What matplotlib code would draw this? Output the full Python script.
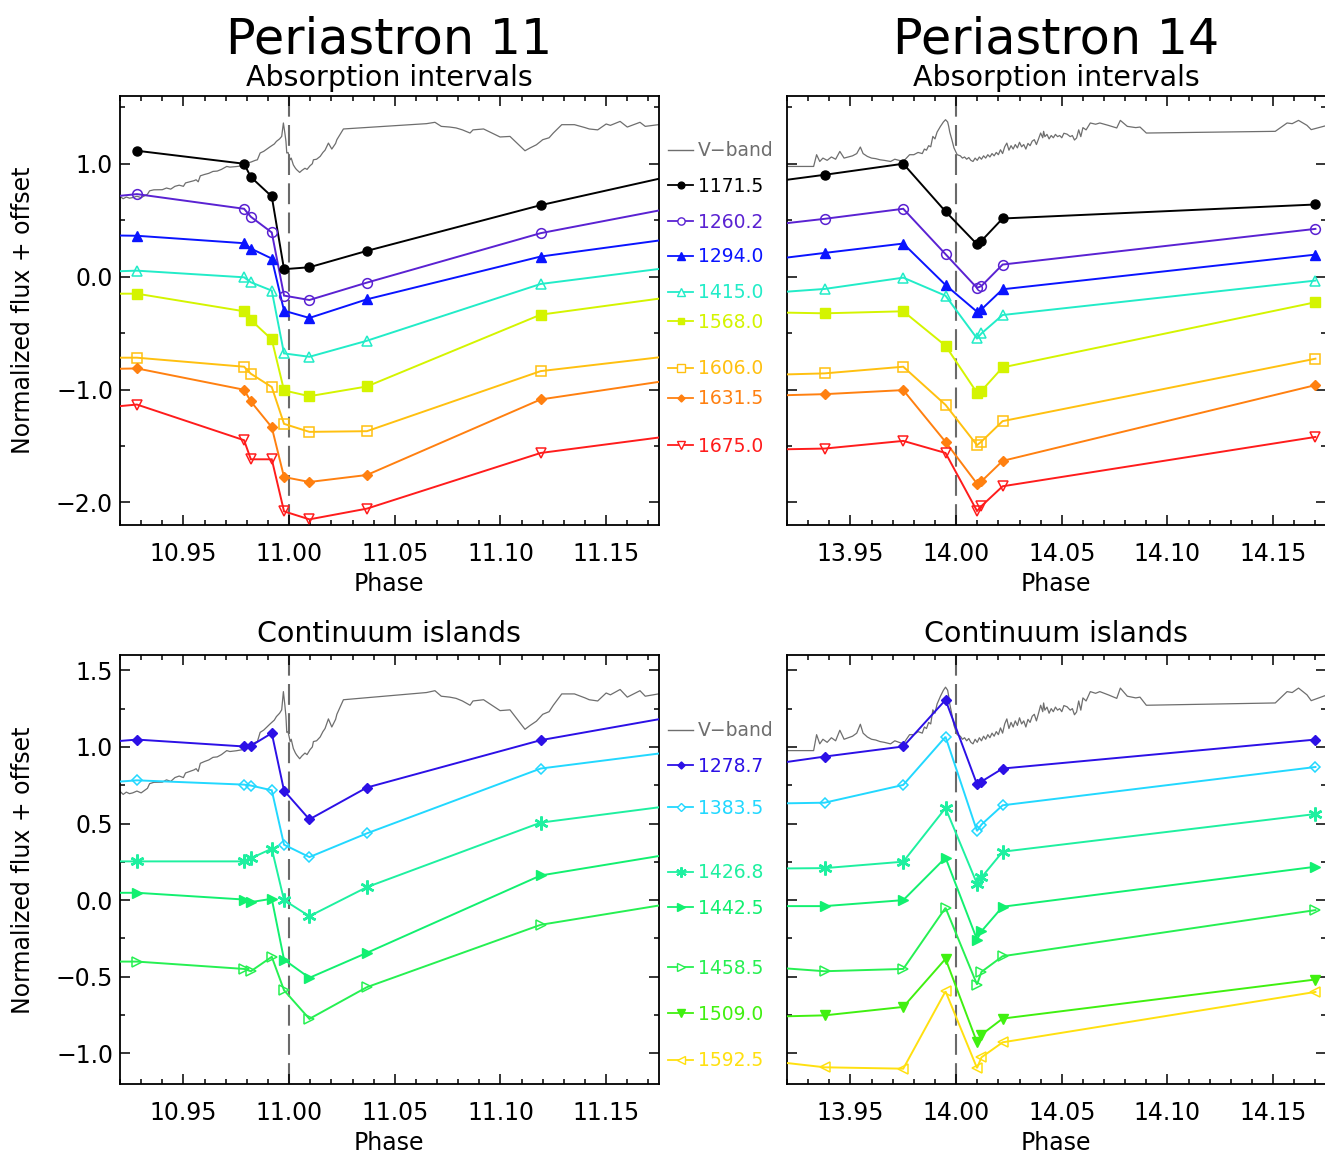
import matplotlib
matplotlib.use('Agg')
import matplotlib.pyplot as plt
from matplotlib.lines import Line2D
from matplotlib.ticker import MultipleLocator, FuncFormatter

# ---------------- data ----------------
# observation phases
phase_p11 = [10.928, 10.9787, 10.9819, 10.9918, 10.9976, 11.0096, 11.0368, 11.119]
phase_p14 = [13.9378, 13.975, 13.995, 14.0099, 14.012, 14.022, 14.170]
xlim_p11 = (10.92, 11.175)
xlim_p14 = (13.92, 14.175)

# V-band light curve (normalized)
vband_p11_x = [10.920, 10.9215, 10.923, 10.9245, 10.926, 10.928, 10.930, 10.931, 10.933, 10.934,
               10.936, 10.940, 10.942, 10.944, 10.946, 10.948, 10.950, 10.951, 10.953, 10.955,
               10.956, 10.957, 10.958, 10.960, 10.962, 10.964, 10.966, 10.968, 10.9705, 10.972,
               10.975, 10.978, 10.980, 10.982, 10.984, 10.985, 10.9863, 10.988, 10.9895, 10.991,
               10.993, 10.994, 10.9955, 10.9965, 10.9973, 10.998, 10.9985, 10.9989, 10.9995, 11.0005,
               11.001, 11.002, 11.003, 11.0036, 11.005, 11.006, 11.0075, 11.0085, 11.0099, 11.011,
               11.0115, 11.013, 11.0147, 11.016, 11.017, 11.0186, 11.0202, 11.022, 11.0226, 11.0257,
               11.065, 11.069, 11.072, 11.076, 11.079, 11.082, 11.0856, 11.087, 11.092, 11.0998,
               11.1045, 11.1116, 11.114, 11.117, 11.120, 11.123, 11.125, 11.129, 11.135, 11.140,
               11.142, 11.146, 11.150, 11.152, 11.1566, 11.160, 11.166, 11.1685, 11.1747]
vband_p11_y = [0.710, 0.690, 0.705, 0.695, 0.700, 0.712, 0.700, 0.710, 0.730, 0.760,
               0.769, 0.770, 0.785, 0.775, 0.800, 0.810, 0.800, 0.830, 0.840, 0.850,
               0.858, 0.840, 0.893, 0.905, 0.915, 0.932, 0.935, 0.950, 0.976, 0.970,
               0.975, 0.982, 1.006, 1.015, 1.030, 1.035, 1.095, 1.110, 1.130, 1.150,
               1.175, 1.198, 1.220, 1.242, 1.361, 1.272, 1.200, 1.095, 1.100, 1.035,
               1.050, 0.990, 0.960, 0.947, 0.923, 0.940, 0.960, 0.950, 0.982, 1.000,
               1.035, 1.040, 1.065, 1.100, 1.120, 1.183, 1.130, 1.180, 1.213, 1.308,
               1.355, 1.367, 1.331, 1.325, 1.317, 1.300, 1.272, 1.300, 1.308, 1.237,
               1.242, 1.115, 1.140, 1.168, 1.213, 1.230, 1.272, 1.346, 1.346, 1.320,
               1.308, 1.300, 1.352, 1.340, 1.375, 1.325, 1.367, 1.331, 1.346]

vband_p14_x = [13.920, 13.9326, 13.934, 13.9355, 13.937, 13.939, 13.941, 13.943, 13.945, 13.947,
               13.949, 13.951, 13.953, 13.9547, 13.956, 13.958, 13.960, 13.962, 13.964, 13.966,
               13.969, 13.971, 13.973, 13.975, 13.978, 13.980, 13.982, 13.984, 13.985, 13.986,
               13.987, 13.988, 13.989, 13.990, 13.991, 13.9926, 13.994, 13.995, 13.996, 13.9965,
               13.997, 13.998, 13.999, 14.0005, 14.002, 14.003, 14.004, 14.005, 14.006, 14.007,
               14.008, 14.009, 14.010, 14.011, 14.012, 14.013, 14.014, 14.015, 14.016, 14.017,
               14.018, 14.019, 14.020, 14.021, 14.022, 14.023, 14.024, 14.025, 14.026, 14.027,
               14.028, 14.029, 14.030, 14.031, 14.032, 14.033, 14.034, 14.035, 14.036, 14.037,
               14.038, 14.039, 14.040, 14.041, 14.0414, 14.042, 14.043, 14.044, 14.045, 14.046,
               14.047, 14.048, 14.049, 14.050, 14.051, 14.0525, 14.054, 14.055, 14.056, 14.057,
               14.058, 14.059, 14.060, 14.0615, 14.0635, 14.066, 14.068, 14.072, 14.076, 14.0777,
               14.081, 14.085, 14.087, 14.090, 14.151, 14.1566, 14.159, 14.162, 14.166, 14.168,
               14.175]
vband_p14_y = [0.976, 0.976, 1.080, 1.020, 1.050, 1.030, 1.060, 1.040, 1.109, 1.050,
               1.060, 1.070, 1.090, 1.148, 1.090, 1.065, 1.050, 1.045, 1.035, 1.030,
               1.020, 1.040, 1.030, 1.020, 1.080, 1.080, 1.100, 1.090, 1.130, 1.120,
               1.160, 1.150, 1.242, 1.220, 1.280, 1.331, 1.370, 1.390, 1.370, 1.331,
               1.280, 1.213, 1.140, 1.080, 1.070, 1.050, 1.060, 1.040, 1.055, 1.030,
               1.020, 1.050, 1.030, 1.060, 1.040, 1.070, 1.050, 1.080, 1.060, 1.090,
               1.070, 1.100, 1.080, 1.124, 1.090, 1.150, 1.183, 1.120, 1.160, 1.130,
               1.170, 1.140, 1.190, 1.150, 1.170, 1.130, 1.180, 1.160, 1.200, 1.213,
               1.170, 1.220, 1.272, 1.230, 1.287, 1.240, 1.260, 1.220, 1.250, 1.230,
               1.260, 1.240, 1.250, 1.230, 1.270, 1.262, 1.240, 1.250, 1.210, 1.228,
               1.300, 1.240, 1.320, 1.300, 1.361, 1.350, 1.361, 1.340, 1.317, 1.384,
               1.331, 1.320, 1.325, 1.272, 1.287, 1.361, 1.355, 1.384, 1.340, 1.302,
               1.337]

# Absorption intervals, periastron 11  (values at phase_p11; left/right = value at axis edges)
abs_labels = ['1171.5', '1260.2', '1294.0', '1415.0', '1568.0', '1606.0', '1631.5', '1675.0']
abs11 = {
    '1171.5': [1.115, 1.000, 0.882, 0.710, 0.066, 0.083, 0.228, 0.633],
    '1260.2': [0.731, 0.601, 0.530, 0.391, -0.168, -0.207, -0.053, 0.385],
    '1294.0': [0.362, 0.296, 0.249, 0.160, -0.302, -0.366, -0.201, 0.178],
    '1415.0': [0.053, -0.006, -0.050, -0.124, -0.680, -0.710, -0.568, -0.065],
    '1568.0': [-0.151, -0.307, -0.384, -0.556, -1.008, -1.059, -0.973, -0.337],
    '1606.0': [-0.718, -0.798, -0.860, -0.978, -1.304, -1.375, -1.369, -0.837],
    '1631.5': [-0.813, -1.002, -1.106, -1.334, -1.775, -1.819, -1.757, -1.088],
    '1675.0': [-1.133, -1.449, -1.618, -1.618, -2.079, -2.150, -2.055, -1.562],
}
abs11_left = {'1171.5': None, '1260.2': 0.716, '1294.0': 0.364, '1415.0': 0.048,
              '1568.0': -0.151, '1606.0': -0.718, '1631.5': -0.816, '1675.0': -1.147}
abs11_right = {'1171.5': 0.867, '1260.2': 0.586, '1294.0': 0.320, '1415.0': 0.068,
               '1568.0': -0.195, '1606.0': -0.715, '1631.5': -0.932, '1675.0': -1.425}

# Absorption intervals, periastron 14 (values at phase_p14)
abs14 = {
    '1171.5': [0.902, 1.000, 0.577, 0.287, 0.317, 0.515, 0.639],
    '1260.2': [0.512, 0.601, 0.199, -0.100, -0.083, 0.107, 0.423],
    '1294.0': [0.210, 0.293, -0.074, -0.311, -0.290, -0.112, 0.195],
    '1415.0': [-0.109, -0.009, -0.169, -0.547, -0.503, -0.340, -0.035],
    '1568.0': [-0.325, -0.307, -0.612, -1.029, -1.012, -0.804, -0.227],
    '1606.0': [-0.857, -0.798, -1.136, -1.493, -1.461, -1.280, -0.727],
    '1631.5': [-1.041, -1.005, -1.464, -1.834, -1.813, -1.632, -0.961],
    '1675.0': [-1.523, -1.455, -1.562, -2.076, -2.032, -1.857, -1.420],
}
abs14_left = {'1171.5': 0.858, '1260.2': 0.474, '1294.0': 0.169, '1415.0': -0.133,
              '1568.0': -0.319, '1606.0': -0.866, '1631.5': -1.050, '1675.0': -1.529}

# Continuum islands, periastron 11
cont_labels = ['1278.7', '1383.5', '1426.8', '1442.5', '1458.5', '1509.0', '1592.5']
cont11 = {
    '1278.7': [1.048, 1.003, 1.007, 1.090, 0.715, 0.527, 0.735, 1.044],
    '1383.5': [0.782, 0.754, 0.748, 0.717, 0.362, 0.281, 0.436, 0.859],
    '1426.8': [0.253, 0.253, 0.273, 0.336, 0.000, -0.105, 0.085, 0.506],
    '1442.5': [0.048, 0.004, -0.013, 0.009, -0.388, -0.507, -0.344, 0.161],
    '1458.5': [-0.401, -0.449, -0.464, -0.370, -0.588, -0.775, -0.568, -0.161],
}
cont11_left = {'1278.7': 1.039, '1383.5': 0.774, '1426.8': 0.253, '1442.5': 0.048, '1458.5': -0.401}
cont11_right = {'1278.7': 1.181, '1383.5': 0.957, '1426.8': 0.606, '1442.5': 0.288, '1458.5': -0.035}

# Continuum islands, periastron 14
cont14 = {
    '1278.7': [0.937, 1.003, 1.307, 0.756, 0.774, 0.859, 1.048],
    '1383.5': [0.636, 0.752, 1.066, 0.451, 0.493, 0.619, 0.869],
    '1426.8': [0.209, 0.251, 0.601, 0.107, 0.148, 0.316, 0.562],
    '1442.5': [-0.039, 0.000, 0.277, -0.257, -0.203, -0.043, 0.218],
    '1458.5': [-0.464, -0.449, -0.050, -0.551, -0.468, -0.366, -0.065],
    '1509.0': [-0.752, -0.697, -0.383, -0.928, -0.878, -0.773, -0.518],
    '1592.5': [-1.091, -1.100, -0.595, -1.096, -1.026, -0.928, -0.599],
}
cont14_left = {'1278.7': 0.902, '1383.5': 0.632, '1426.8': 0.207, '1442.5': -0.039,
               '1458.5': -0.446, '1509.0': -0.758, '1592.5': -1.063}

# legend label positions (pixel rows)
abs_legend_rows = [185, 221, 256, 292, 321, 368, 398, 445]
cont_legend_rows = [765, 807, 872, 907, 967, 1013, 1060]

# ---------------- styles ----------------
ASTER = (6, 2, 0)
style = {
    '1171.5': dict(color='#000000', marker='o', fill=True, ms=6.5),
    '1260.2': dict(color='#5a22d2', marker='o', fill=False, ms=7),
    '1294.0': dict(color='#0a14ff', marker='^', fill=True, ms=7),
    '1415.0': dict(color='#22ecc8', marker='^', fill=False, ms=7.5),
    '1568.0': dict(color='#d4f400', marker='s', fill=True, ms=6.5),
    '1606.0': dict(color='#ffc010', marker='s', fill=False, ms=7),
    '1631.5': dict(color='#ff8010', marker='D', fill=True, ms=4.8),
    '1675.0': dict(color='#ff1c1c', marker='v', fill=False, ms=7.5),
    '1278.7': dict(color='#2c10e6', marker='D', fill=True, ms=4.8),
    '1383.5': dict(color='#22d8ff', marker='D', fill=False, ms=5.5),
    '1426.8': dict(color='#1ef0a0', marker=ASTER, fill=True, ms=10),
    '1442.5': dict(color='#12f070', marker='>', fill=True, ms=7),
    '1458.5': dict(color='#26f052', marker='>', fill=False, ms=7.5),
    '1509.0': dict(color='#40f010', marker='v', fill=True, ms=7),
    '1592.5': dict(color='#ffe010', marker='<', fill=False, ms=7.5),
}
VCOL = '#6e6e6e'

W, H = 1325, 1153
fig = plt.figure(figsize=(W / 100, H / 100), dpi=100)
plt.rcParams['font.family'] = 'DejaVu Sans'


def rect(l, t, r, b):
    return [l / W, 1 - b / H, (r - l) / W, (b - t) / H]


def px(x, y):
    return x / W, 1 - y / H


ax_tl = fig.add_axes(rect(120, 96, 659, 525))
ax_tr = fig.add_axes(rect(787, 96, 1326, 525))
ax_bl = fig.add_axes(rect(120, 655, 659, 1084))
ax_br = fig.add_axes(rect(787, 655, 1326, 1084))


def fmt(decimals):
    return FuncFormatter(lambda v, p: ('%.*f' % (decimals, v)).replace('-', '\u2212'))


def setup(ax, xlim, ylim, ymaj, ymin, ylabels):
    ax.set_xlim(*xlim)
    ax.set_ylim(*ylim)
    ax.xaxis.set_major_locator(MultipleLocator(0.05))
    ax.xaxis.set_minor_locator(MultipleLocator(0.01))
    ax.yaxis.set_major_locator(MultipleLocator(ymaj))
    ax.yaxis.set_minor_locator(MultipleLocator(ymin))
    ax.xaxis.set_major_formatter(fmt(2))
    ax.yaxis.set_major_formatter(fmt(1))
    ax.tick_params(which='both', direction='in', top=True, right=True, width=1.1)
    ax.tick_params(which='major', length=7, labelsize=17)
    ax.tick_params(which='minor', length=3.5)
    ax.tick_params(axis='x', which='major', pad=12)
    ax.tick_params(axis='y', which='major', pad=5)
    if not ylabels:
        ax.tick_params(axis='y', labelleft=False)
    for s in ax.spines.values():
        s.set_linewidth(1.3)
    ax.axvline(round(xlim[0] + 0.08), color='#6a6a6a', lw=1.5, dashes=(10, 4), zorder=1)


def draw_series(ax, xs, ys, key, xlim, left=None, right=None):
    st = style[key]
    lx, ly = list(xs), list(ys)
    if left is not None:
        lx = [xlim[0]] + lx
        ly = [left] + ly
    if right is not None:
        lx = lx + [xlim[1]]
        ly = ly + [right]
    ax.plot(lx, ly, color=st['color'], lw=1.4, zorder=3, solid_joinstyle='miter')
    if st['marker'] == ASTER:
        ax.plot(xs, ys, ls='none', marker=st['marker'], ms=st['ms'], color=st['color'],
                mec=st['color'], mew=1.8, zorder=4)
    elif st['fill']:
        ax.plot(xs, ys, ls='none', marker=st['marker'], ms=st['ms'], mfc=st['color'],
                mec=st['color'], mew=1.0, zorder=4)
    else:
        ax.plot(xs, ys, ls='none', marker=st['marker'], ms=st['ms'], mfc='none',
                mec=st['color'], mew=1.1, zorder=4)


setup(ax_tl, xlim_p11, (-2.2, 1.6), 1.0, 0.5, True)
setup(ax_tr, xlim_p14, (-2.2, 1.6), 1.0, 0.5, False)
setup(ax_bl, xlim_p11, (-1.2, 1.6), 0.5, 0.25, True)
setup(ax_br, xlim_p14, (-1.2, 1.6), 0.5, 0.25, False)

for ax in (ax_tl, ax_bl):
    ax.plot(vband_p11_x, vband_p11_y, color=VCOL, lw=0.9, zorder=2)
for ax in (ax_tr, ax_br):
    ax.plot(vband_p14_x, vband_p14_y, color=VCOL, lw=0.9, zorder=2)

for k in abs_labels:
    draw_series(ax_tl, phase_p11, abs11[k], k, xlim_p11, abs11_left[k], abs11_right[k])
    draw_series(ax_tr, phase_p14, abs14[k], k, xlim_p14, abs14_left[k], None)
for k in cont11:
    draw_series(ax_bl, phase_p11, cont11[k], k, xlim_p11, cont11_left[k], cont11_right[k])
for k in cont_labels:
    draw_series(ax_br, phase_p14, cont14[k], k, xlim_p14, cont14_left[k], None)

# ---------------- texts ----------------
for cx, title in ((389, 'Periastron 11'), (1056, 'Periastron 14')):
    fig.text(*px(cx, 53), title, fontsize=35.5, ha='center', va='baseline')
    fig.text(*px(cx, 86), 'Absorption intervals', fontsize=20.5, ha='center', va='baseline')
    fig.text(*px(cx, 642), 'Continuum islands', fontsize=20.5, ha='center', va='baseline')
    fig.text(*px(cx, 591), 'Phase', fontsize=17, ha='center', va='baseline')
    fig.text(*px(cx, 1150), 'Phase', fontsize=17, ha='center', va='baseline')

for cy in (310, 870):
    fig.text(*px(23, cy), 'Normalized flux + offset', fontsize=17, rotation=90,
             ha='center', va='center')


# ---------------- legends ----------------
def legend_entry(y, label, color, key=None):
    x0, x1, xm = 668, 693, 681
    fig.add_artist(Line2D([x0 / W, x1 / W], [1 - y / H, 1 - y / H], transform=fig.transFigure,
                          color=color, lw=1.3 if key else 1.0))
    if key:
        st = style[key]
        kw = dict(marker=st['marker'], ms=st['ms'] * 0.75, mec=color, transform=fig.transFigure)
        if st['fill'] or st['marker'] == ASTER:
            kw.update(mfc=color)
            if st['marker'] == ASTER:
                kw.update(mew=1.5)
        else:
            kw.update(mfc='white', mew=1.0)
        fig.add_artist(Line2D([xm / W], [1 - y / H], ls='none', **kw))
    fig.text(*px(698, y + 6.5), label, fontsize=13.5, color=color, ha='left', va='baseline')


legend_entry(150, 'V\u2212band', VCOL)
for k, row in zip(abs_labels, abs_legend_rows):
    legend_entry(row, k, style[k]['color'], k)
legend_entry(730, 'V\u2212band', VCOL)
for k, row in zip(cont_labels, cont_legend_rows):
    legend_entry(row, k, style[k]['color'], k)

fig.savefig('out.png', dpi=100)
